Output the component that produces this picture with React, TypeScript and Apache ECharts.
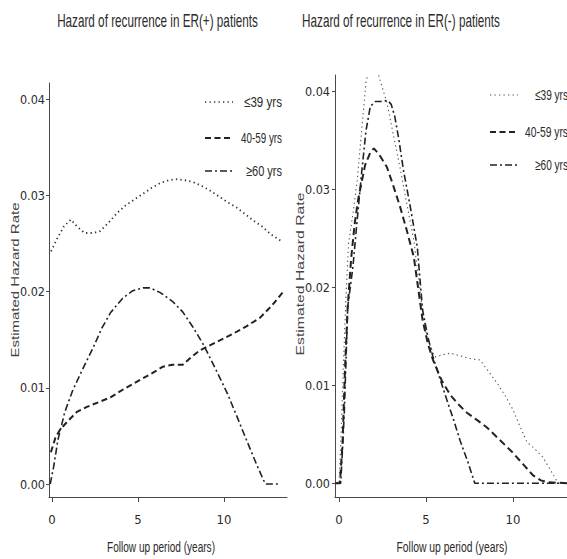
import React, { useEffect, useRef } from "react";
import * as echarts from "echarts";

// ---------- data (years, estimated hazard rate) ----------
const groupNames = ["≤39 yrs", "40-59 yrs", "≥60 yrs"];
const xTicks = [0, 5, 10];
const yTicks = [0, 0.01, 0.02, 0.03, 0.04];

const erPosYoung: number[][] = [
  [-0.05, 0.0242], [0.3, 0.0255], [0.7, 0.0268], [1.1, 0.0275], [1.5, 0.0267], [1.9, 0.0261],
  [2.4, 0.0261], [2.8, 0.0263], [3.3, 0.0272], [3.8, 0.0282], [4.3, 0.029], [4.8, 0.0296],
  [5.3, 0.0302], [5.8, 0.0308], [6.3, 0.0313], [6.8, 0.0316], [7.2, 0.0317], [7.7, 0.0316],
  [8.2, 0.0314], [8.7, 0.031], [9.2, 0.0305], [9.7, 0.0299], [10.2, 0.0293], [10.7, 0.0288],
  [11.2, 0.0281], [11.7, 0.0274], [12.2, 0.0268], [12.7, 0.026], [13.3, 0.0253],
];
const erPosMid: number[][] = [
  [-0.06, 0.0033], [0.2, 0.0048], [0.45, 0.0056], [0.9, 0.0065], [1.45, 0.0075], [2.0, 0.008],
  [2.7, 0.0085], [3.4, 0.009], [4.2, 0.0099], [5.1, 0.0108], [5.8, 0.0115], [6.45, 0.0122],
  [7.0, 0.0124], [7.6, 0.0124], [8.1, 0.0132], [8.6, 0.0139], [9.5, 0.0147], [10.5, 0.0156],
  [11.3, 0.0164], [12.1, 0.0173], [12.8, 0.0186], [13.4, 0.0199],
];
const erPosOld: number[][] = [
  [-0.1, 0], [0.1, 0.0018], [0.35, 0.0046], [0.75, 0.0075], [1.2, 0.0097], [1.8, 0.012],
  [2.4, 0.0142], [2.9, 0.0162], [3.4, 0.0178], [4.1, 0.0193], [4.7, 0.0201], [5.3, 0.0204],
  [5.7, 0.0204], [6.3, 0.0199], [7.0, 0.019], [7.6, 0.0179], [8.2, 0.0163], [8.8, 0.0145],
  [9.5, 0.012], [10.2, 0.0094], [10.8, 0.0068], [11.3, 0.0046], [11.9, 0.002], [12.4, 0],
  [13.2, 0],
];

const erNegYoung: number[][] = [
  [-0.2, 0], [0, 0], [0.1, 0.004], [0.25, 0.012], [0.4, 0.019], [0.55, 0.0245], [0.8, 0.0275],
  [1.05, 0.031], [1.3, 0.036], [1.55, 0.041], [1.8, 0.0428], [2.1, 0.0428], [2.35, 0.0412],
  [2.75, 0.0389], [3.1, 0.0358], [3.5, 0.0323], [3.9, 0.0285], [4.3, 0.0248], [4.7, 0.019],
  [5.05, 0.0149], [5.5, 0.0129], [5.9, 0.0131], [6.4, 0.0133], [7.0, 0.013], [7.6, 0.0127],
  [8.1, 0.0126], [8.6, 0.0114], [9.1, 0.0102], [9.6, 0.0088], [10.0, 0.0075], [10.4, 0.0058],
  [10.8, 0.0042], [11.2, 0.0036], [11.7, 0.0027], [12.1, 0.0015], [12.6, 0], [13.2, 0],
];
const erNegMid: number[][] = [
  [-0.2, 0], [0.05, 0], [0.2, 0.004], [0.35, 0.012], [0.5, 0.018], [0.7, 0.023], [0.9, 0.0265],
  [1.1, 0.029], [1.5, 0.0325], [1.8, 0.0338], [2.0, 0.0342], [2.3, 0.0336], [2.75, 0.0323],
  [3.1, 0.0305], [3.5, 0.0283], [3.9, 0.0258], [4.3, 0.0231], [4.8, 0.0167], [5.1, 0.0143],
  [5.4, 0.0126], [5.9, 0.0105], [6.4, 0.009], [6.9, 0.008], [7.35, 0.0072], [7.9, 0.0065],
  [8.5, 0.0057], [9.2, 0.0045], [10.0, 0.0031], [10.6, 0.0019], [11.15, 0.0008], [11.6, 0.0003],
  [12.0, 0.0001], [13.2, 0],
];
const erNegOld: number[][] = [
  [-0.2, 0], [0.1, 0], [0.3, 0.007], [0.5, 0.018], [0.8, 0.0221], [1.05, 0.027], [1.3, 0.0317],
  [1.55, 0.036], [1.8, 0.0385], [2.1, 0.039], [2.4, 0.039], [2.8, 0.0391], [3.0, 0.0387],
  [3.2, 0.0375], [3.45, 0.035], [3.7, 0.032], [4.1, 0.0282], [4.5, 0.0241], [4.8, 0.0177],
  [5.1, 0.015], [5.4, 0.0129], [5.8, 0.0107], [6.2, 0.0085], [6.6, 0.0064], [6.95, 0.0044],
  [7.4, 0.0022], [7.8, 0], [13.2, 0],
];

const panelTitles = ["Hazard of recurrence in ER(+) patients", "Hazard of recurrence in ER(-) patients"];
const xName = "Follow up period (years)";
const yName = "Estimated Hazard Rate";

// ---------- styles ----------
const NARROW = "'DejaVu Sans Condensed', 'Liberation Sans Narrow', 'Arial Narrow', 'Liberation Sans', sans-serif";
const SANS = "'Liberation Sans', Arial, sans-serif";
const AXIS_COLOR = "#4a4a4a";
const TEXT_COLOR = "#2b2b2b";

const dotted = [1.3, 3.2];
const dashed = [6, 3.5];
const dashDot = [7, 3, 2, 3];

function fitScale(text: string, font: string, target: number): number {
  const ctx = document.createElement("canvas").getContext("2d");
  if (!ctx) return 1;
  ctx.font = font;
  const w = ctx.measureText(text).width;
  return w > 0 ? target / w : 1;
}

function makeText(text: string, x: number, y: number, size: number, family: string, target: number,
  opts: { align?: string; rotation?: number; color?: string } = {}) {
  const font = `${size}px ${family}`;
  const s = fitScale(text, font, target);
  return {
    type: "text",
    x,
    y,
    rotation: opts.rotation || 0,
    scaleX: s,
    silent: true,
    style: {
      text,
      font,
      fill: opts.color || TEXT_COLOR,
      align: opts.align || "center",
      textAlign: opts.align || "center",
      verticalAlign: "middle",
      textVerticalAlign: "middle",
    },
  };
}

function legendLine(x1: number, x2: number, y: number, dash: number[], width: number, color: string) {
  return {
    type: "line",
    silent: true,
    shape: { x1, y1: y, x2, y2: y },
    style: { stroke: color, lineWidth: width, lineDash: dash },
  };
}

export default function App() {
  const ref = useRef<HTMLDivElement>(null);

  useEffect(() => {
    if (!ref.current) return;
    const chart = echarts.init(ref.current, null, { renderer: "svg" });

    const xAxisBase = (gridIndex: number, min: number, max: number) => ({
      type: "value",
      gridIndex,
      min,
      max,
      axisLine: { show: true, onZero: false, lineStyle: { color: AXIS_COLOR, width: 1 } },
      axisTick: { show: true, length: 5, customValues: xTicks, lineStyle: { color: AXIS_COLOR } },
      axisLabel: {
        customValues: xTicks,
        fontFamily: NARROW,
        fontSize: 13,
        color: TEXT_COLOR,
        margin: 16,
        formatter: (v: number) => String(v),
      },
      splitLine: { show: false },
    });
    const yAxisBase = (gridIndex: number, min: number, max: number, margin: number) => ({
      type: "value",
      gridIndex,
      min,
      max,
      axisLine: { show: true, onZero: false, lineStyle: { color: AXIS_COLOR, width: 1 } },
      axisTick: { show: true, length: 3, customValues: yTicks, lineStyle: { color: AXIS_COLOR } },
      axisLabel: {
        customValues: yTicks,
        fontFamily: NARROW,
        fontSize: 12.5,
        color: TEXT_COLOR,
        margin,
        formatter: (v: number) => v.toFixed(2),
      },
      splitLine: { show: false },
    });

    const line = (name: string, data: number[][], idx: number, dash: number[], width: number, color: string) => ({
      type: "line",
      name,
      xAxisIndex: idx,
      yAxisIndex: idx,
      data,
      showSymbol: false,
      symbol: "none",
      smooth: false,
      clip: true,
      lineStyle: { type: dash, width, color },
    });

    const graphics: any[] = [
      makeText(panelTitles[0], 157.5, 20, 18, SANS, 201),
      makeText(panelTitles[1], 401, 20, 18, SANS, 198),
      makeText(xName, 161, 547, 15.5, SANS, 108),
      makeText(xName, 452, 547, 15.5, SANS, 111),
      makeText(yName, 15, 280, 11.5, SANS, 155, { rotation: Math.PI / 2, color: "#444" }),
      makeText(yName, 300, 274, 11.5, SANS, 163, { rotation: Math.PI / 2, color: "#444" }),
      // legend left panel
      legendLine(205, 233, 102, dotted, 1.6, "#333"),
      legendLine(205, 233, 138, dashed, 2, "#222"),
      legendLine(205, 233, 171, dashDot, 1.6, "#222"),
      makeText(groupNames[0], 282, 102, 15, SANS, 38, { align: "right" }),
      makeText(groupNames[1], 282, 138, 15, SANS, 41, { align: "right" }),
      makeText(groupNames[2], 282, 171, 15, SANS, 36, { align: "right" }),
      // legend right panel
      legendLine(490, 518, 95, dotted, 1.2, "#555"),
      legendLine(490, 518, 132, dashed, 2, "#222"),
      legendLine(490, 518, 165, dashDot, 1.6, "#222"),
      makeText(groupNames[0], 568, 95, 15, SANS, 33, { align: "right" }),
      makeText(groupNames[1], 568, 132, 15, SANS, 43, { align: "right" }),
      makeText(groupNames[2], 568, 165, 15, SANS, 33, { align: "right" }),
    ];

    chart.setOption({
      animation: false,
      backgroundColor: "#ffffff",
      grid: [
        { left: 49, top: 83, width: 238, height: 414 },
        { left: 335, top: 75, width: 232, height: 422 },
      ],
      xAxis: [xAxisBase(0, -0.17, 13.66), xAxisBase(1, -0.23, 13.1)],
      yAxis: [yAxisBase(0, -0.00135, 0.0417, 4), yAxisBase(1, -0.0014, 0.0417, 5)],
      series: [
        line(groupNames[0], erPosYoung, 0, dotted, 1.8, "#333"),
        line(groupNames[1], erPosMid, 0, dashed, 2, "#222"),
        line(groupNames[2], erPosOld, 0, dashDot, 1.6, "#222"),
        line(groupNames[0], erNegYoung, 1, dotted, 1.1, "#555"),
        line(groupNames[1], erNegMid, 1, [7, 4], 2, "#222"),
        line(groupNames[2], erNegOld, 1, dashDot, 1.6, "#222"),
      ],
      graphic: graphics,
    });

    return () => chart.dispose();
  }, []);

  return (
    <div
      ref={ref}
      style={{ position: "fixed", left: 0, top: 0, width: 567, height: 559, background: "#fff" }}
    />
  );
}
